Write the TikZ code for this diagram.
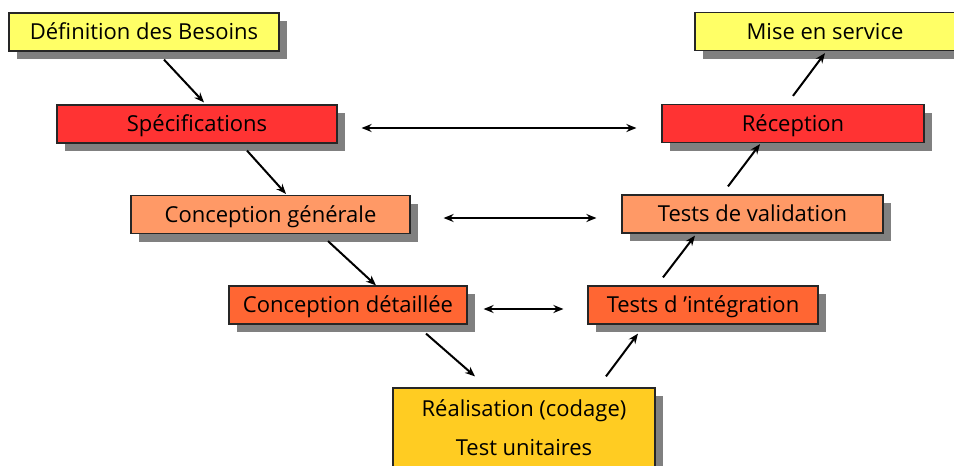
\documentclass[tikz,border=0pt]{standalone}
\usepackage{fontspec}
\setmainfont{Open Sans}
\usetikzlibrary{
    arrows.meta,
    shadows
}
\tikzset{
    % Colors
    pale yellow/.style={fill={rgb,255:red,255;green,255;blue,102}},
    bright red/.style={fill={rgb,255:red,255;green,51;blue,51}},
    light orange/.style={fill={rgb,255:red,255;green,153;blue,102}},
    dark orange/.style={fill={rgb,255:red,255;green,102;blue,51}},
    gold/.style={fill={rgb,255:red,255;green,204;blue,34}},
    %
    % Boxes
    phase/.style={draw=black!85,line width=.6pt,inner sep=0pt,minimum height=19pt,
        text height=8.5pt,text depth=.7pt,
        drop shadow={shadow xshift=4pt,shadow yshift=-4pt,fill=black!50,opacity=1},
        font=\fontsize{11}{19.5}\selectfont},
    %
    % Arrows
    arrow tip/.tip={Stealth[length=5pt,width=4pt]},
    arr/.style={->,>={arrow tip},line width=1pt},
    darr/.style={<->,>={arrow tip},line width=1pt}
}

\begin{document}
\begin{tikzpicture}[x=.5pt,y=-.5pt]
    \useasboundingbox (0,0) rectangle (954,466);
    % left branch
    \node[phase,pale yellow,minimum width=135pt] (besoins) at (144,32) {Définition des Besoins};
    \node[phase,bright red,minimum width=140pt] (specif) at (197,124) {Spécifications};
    \node[phase,light orange,minimum width=139.5pt] (cgen) at (270.5,214.5) {Conception générale};
    \node[phase,dark orange,minimum width=119pt] (cdet) at (348,305) {Conception détaillée};
    % bottom
    \node[phase,gold,minimum width=131pt,minimum height=40pt,text height=,text depth=,align=center] (codage) at (524,428)
        {Réalisation (codage)\\Test unitaires};
    % right branch
    \node[phase,dark orange,minimum width=115pt] (tinteg) at (703,305) {Tests d 'intégration};
    \node[phase,light orange,minimum width=130.5pt] (tvalid) at (752.5,214) {Tests de validation};
    \node[phase,bright red,minimum width=131pt] (recep) at (793,123.5) {Réception};
    \node[phase,pale yellow,minimum width=130pt] (service) at (825,31.5) {Mise en service};
    % down the V
    \draw[arr] ([xshift=10pt,yshift=-4pt]besoins.south) -- ([xshift=3.5pt,yshift=1pt]specif.north);
    \draw[arr] ([xshift=25pt,yshift=-3.5pt]specif.south) -- ([xshift=7.75pt,yshift=.5pt]cgen.north);
    \draw[arr] ([xshift=28.75pt,yshift=-3.5pt]cgen.south) -- ([xshift=14pt]cdet.north);
    \draw[arr] ([xshift=39pt,yshift=-4.5pt]cdet.south) -- ([xshift=-24.5pt,yshift=5.5pt]codage.north);
    % up the V
    \draw[arr] ([xshift=41pt,yshift=5.5pt]codage.north) -- ([xshift=-32.5pt,yshift=-4.5pt]tinteg.south);
    \draw[arr] ([xshift=-20pt,yshift=4pt]tinteg.north) -- ([xshift=-28.75pt,yshift=-1pt]tvalid.south);
    \draw[arr] ([xshift=-12.25pt,yshift=4pt]tvalid.north) -- ([xshift=-16.5pt,yshift=-.5pt]recep.south);
    \draw[arr] ([yshift=4pt]recep.north) -- ([yshift=-1pt]service.south);
    % across
    \draw[darr] ([xshift=12pt,yshift=-2pt]specif.east) -- ([xshift=-12.5pt,yshift=-2.25pt]recep.west);
    \draw[darr] ([xshift=16.5pt,yshift=-1.75pt]cgen.east) -- ([xshift=-12.5pt,yshift=-2pt]tvalid.west);
    \draw[darr] ([xshift=8pt,yshift=-2pt]cdet.east) -- ([xshift=-12pt,yshift=-2pt]tinteg.west);
\end{tikzpicture}
\end{document}
